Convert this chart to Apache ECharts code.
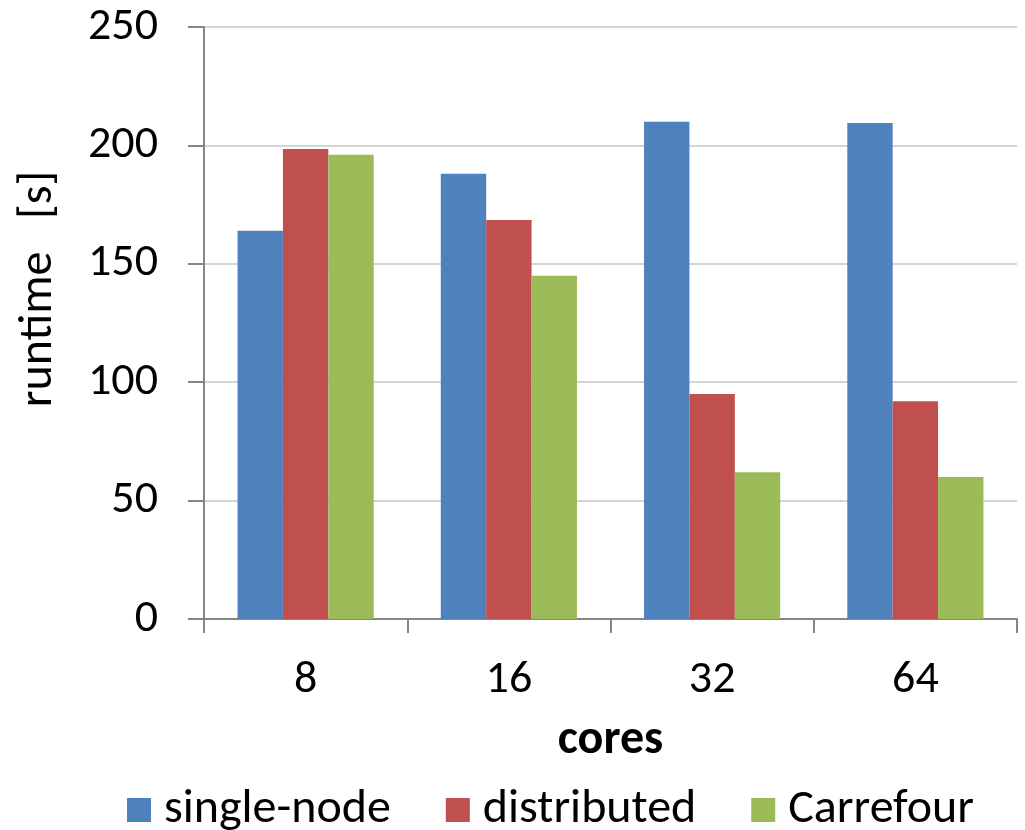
<!DOCTYPE html>
<html>
<head>
<meta charset="utf-8">
<script src="https://cdn.jsdelivr.net/npm/echarts@6/dist/echarts.min.js"></script>
<style>
  html, body { margin: 0; padding: 0; background: #ffffff; }
  #chart { width: 1025px; height: 830px; }
</style>
</head>
<body>
<div id="chart"></div>
<script>
// Runtime per core count for three execution modes
const cores = ['8', '16', '32', '64'];
const singleNode = [164, 188, 210, 209.5];
const distributed = [198.5, 168.5, 95, 92];
const carrefour = [196, 145, 62, 60];
const yTicks = { min: 0, max: 250, interval: 50 };

const FONT = "Carlito, Calibri, 'Open Sans', sans-serif";
const axisGray = '#868686';

const chart = echarts.init(document.getElementById('chart'), null, { renderer: 'canvas' });

function barSeries(name, data, color) {
  return {
    name: name,
    type: 'bar',
    data: data,
    barGap: '0%',
    barCategoryGap: '33%',
    itemStyle: { color: color },
    emphasis: { disabled: true }
  };
}

chart.setOption({
  animation: false,
  textStyle: { fontFamily: FONT, color: '#000' },
  grid: { left: 204, right: 8, top: 27, bottom: 211, containLabel: false, outerBoundsMode: 'none' },
  legend: {
    top: 781,
    left: 122,
    icon: 'rect',
    itemWidth: 24,
    itemHeight: 24,
    itemGap: 55,
    textStyle: { fontFamily: FONT, fontSize: 48, color: '#000', padding: [0, 0, 0, 8] },
    data: ['single-node', 'distributed', 'Carrefour']
  },
  xAxis: {
    type: 'category',
    data: cores,
    name: 'cores',
    nameLocation: 'middle',
    nameGap: 98,
    nameTextStyle: { fontFamily: FONT, fontSize: 48, fontWeight: 'bold', color: '#000' },
    axisLine: { show: true, lineStyle: { color: axisGray, width: 2 } },
    axisTick: { show: true, length: 14, lineStyle: { color: axisGray, width: 2 } },
    axisLabel: { fontFamily: FONT, fontSize: 46, color: '#000', margin: 38 },
    splitLine: { show: false }
  },
  yAxis: {
    type: 'value',
    min: yTicks.min,
    max: yTicks.max,
    interval: yTicks.interval,
    name: 'runtime   [s]',
    nameLocation: 'middle',
    nameRotate: 90,
    nameGap: 141,
    nameTextStyle: { fontFamily: FONT, fontSize: 48, color: '#000', padding: [0, 0, 0, 68] },
    axisLine: { show: true, lineStyle: { color: axisGray, width: 2 } },
    axisTick: { show: true, length: 16, lineStyle: { color: axisGray, width: 2 } },
    axisLabel: { fontFamily: FONT, fontSize: 46, color: '#000', margin: 46 },
    splitLine: { show: true, lineStyle: { color: '#d4d4d4', width: 2 } }
  },
  series: [
    barSeries('single-node', singleNode, '#4F81BD'),
    barSeries('distributed', distributed, '#C0504D'),
    barSeries('Carrefour', carrefour, '#9BBB59')
  ]
});
</script>
</body>
</html>
